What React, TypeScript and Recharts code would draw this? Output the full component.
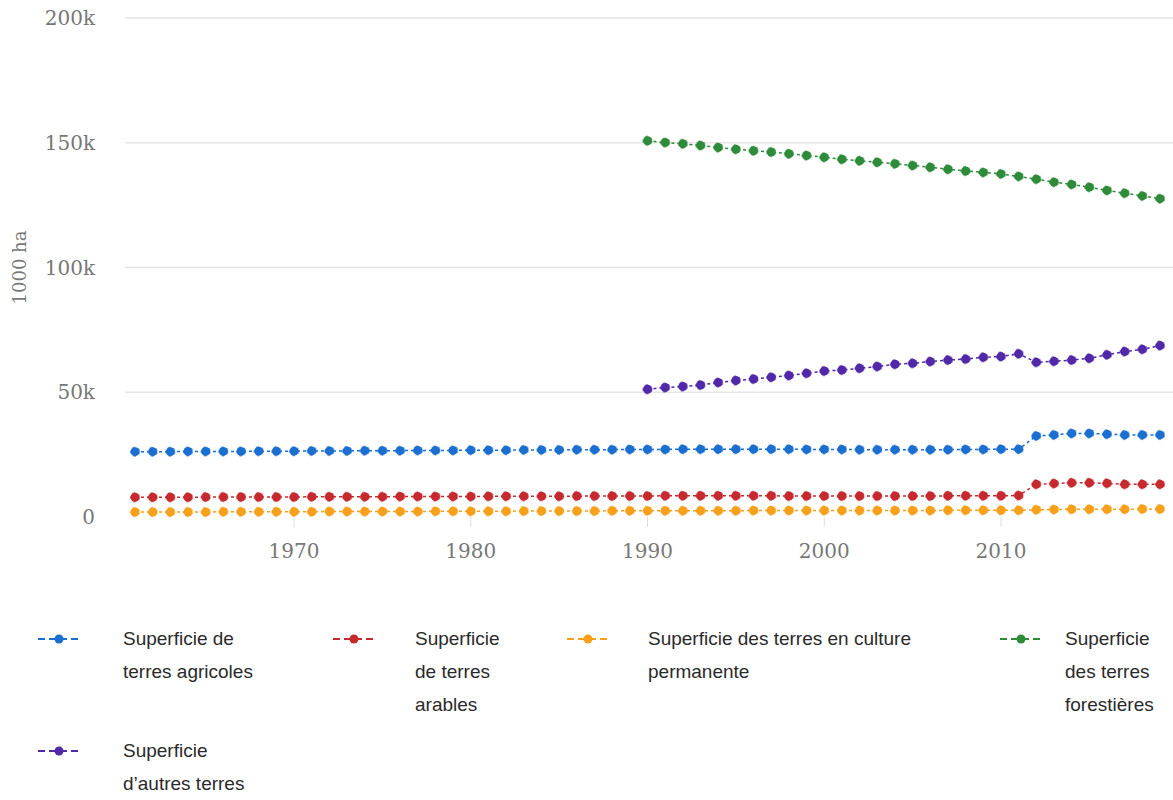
import { CartesianGrid, Legend, Line, LineChart, XAxis, YAxis } from 'recharts';

// years shown on the x axis
const years = [
  1961, 1962, 1963, 1964, 1965, 1966, 1967, 1968, 1969, 1970,
  1971, 1972, 1973, 1974, 1975, 1976, 1977, 1978, 1979, 1980,
  1981, 1982, 1983, 1984, 1985, 1986, 1987, 1988, 1989, 1990,
  1991, 1992, 1993, 1994, 1995, 1996, 1997, 1998, 1999, 2000,
  2001, 2002, 2003, 2004, 2005, 2006, 2007, 2008, 2009, 2010,
  2011, 2012, 2013, 2014, 2015, 2016, 2017, 2018, 2019,
];

// 1000 ha, 1961-2019
const agricoles = [
  26200, 26200, 26200, 26300, 26300, 26300, 26300, 26400, 26400, 26400,
  26500, 26500, 26500, 26600, 26600, 26600, 26700, 26700, 26700, 26800,
  26800, 26800, 26900, 26900, 26900, 27000, 27000, 27000, 27100, 27100,
  27100, 27200, 27200, 27200, 27200, 27200, 27200, 27200, 27100, 27100,
  27100, 27000, 27000, 27000, 27000, 27000, 27000, 27100, 27100, 27200,
  27200, 32500, 32900, 33500, 33500, 33200, 32900, 32900, 32900,
];

const arables = [
  7900, 7900, 7900, 7900, 8000, 8000, 8000, 8000, 8000, 8000,
  8100, 8100, 8100, 8100, 8100, 8200, 8200, 8200, 8200, 8200,
  8300, 8300, 8300, 8300, 8300, 8400, 8400, 8400, 8400, 8400,
  8500, 8500, 8500, 8500, 8500, 8500, 8500, 8400, 8400, 8400,
  8400, 8400, 8400, 8400, 8400, 8400, 8500, 8500, 8500, 8500,
  8600, 13100, 13400, 13700, 13700, 13500, 13100, 13100, 13100,
];

const permanentes = [
  2000, 2000, 2000, 2000, 2000, 2100, 2100, 2100, 2100, 2100,
  2100, 2200, 2200, 2200, 2200, 2200, 2200, 2300, 2300, 2300,
  2300, 2300, 2400, 2400, 2400, 2400, 2400, 2500, 2500, 2500,
  2500, 2500, 2500, 2500, 2500, 2600, 2600, 2600, 2600, 2600,
  2600, 2600, 2600, 2600, 2600, 2600, 2700, 2700, 2700, 2700,
  2700, 2900, 3000, 3100, 3100, 3100, 3100, 3200, 3200,
];

// forest and other land only reported from 1990
const firstYearForest = 1990;

const forestieres = [
  150800, 150100, 149600, 148900, 148100, 147400, 146800, 146300, 145600, 144900,
  144200, 143400, 142800, 142200, 141600, 140900, 140200, 139400, 138700, 138100,
  137500, 136500, 135400, 134200, 133300, 132200, 130900, 129800, 128700, 127600,
];

const autres = [
  51200, 51900, 52300, 52900, 53900, 54700, 55300, 56000, 56700, 57600,
  58500, 58900, 59600, 60300, 61200, 61600, 62300, 62900, 63300, 64000,
  64300, 65400, 62000, 62400, 62900, 63600, 65000, 66300, 67200, 68700,
];

const yTicks = [0, 50000, 100000, 150000, 200000];
const xTicks = [1970, 1980, 1990, 2000, 2010];

const series = [
  { key: 'agricoles', name: 'Superficie de\nterres agricoles', color: '#1b6fd0' },
  { key: 'arables', name: 'Superficie\nde terres\narables', color: '#c62a2f' },
  { key: 'permanentes', name: 'Superficie des terres en culture\npermanente', color: '#f7a01a' },
  { key: 'forestieres', name: 'Superficie\ndes terres\nforestières', color: '#2e8b3a' },
  { key: 'autres', name: 'Superficie\nd\u2019autres terres', color: '#5129a8' },
];

const data = years.map((year, i) => {
  const j = i - years.indexOf(firstYearForest);
  return {
    year,
    agricoles: agricoles[i],
    arables: arables[i],
    permanentes: permanentes[i],
    forestieres: j >= 0 ? forestieres[j] : null,
    autres: j >= 0 ? autres[j] : null,
  };
});

// legend placement: icon left, text left, row top
const legendIconX = [38, 333, 567, 1000, 38];
const legendTextX = [123, 415, 648, 1065, 123];
const legendRowY = [0, 0, 0, 0, 112];

const renderLegend = () => (
  <div
    style={{
      position: 'relative',
      width: 1173,
      height: 180,
      fontFamily: '"Liberation Sans", Arial, sans-serif',
      fontSize: 19,
      color: '#2a2a2a',
    }}
  >
    {series.map((s, i) => (
      <div key={s.key}>
        <svg
          width={42}
          height={12}
          style={{ position: 'absolute', left: legendIconX[i], top: legendRowY[i] + 2 }}
        >
          <line x1={0} y1={6} x2={42} y2={6} stroke={s.color} strokeWidth={2} strokeDasharray="7 4" />
          <circle cx={21} cy={6} r={4.5} fill={s.color} />
        </svg>
        <div
          style={{
            position: 'absolute',
            left: legendTextX[i],
            top: legendRowY[i] - 9,
            whiteSpace: 'pre',
            lineHeight: '33px',
          }}
        >
          {s.name}
        </div>
      </div>
    ))}
  </div>
);

const fmtK = (v: number) => (v === 0 ? '0' : `${v / 1000}k`);

const axisFont = { fill: '#777', fontSize: 20, fontFamily: '"DejaVu Serif", serif' };

export default function App() {
  return (
    <div style={{ position: 'absolute', left: 0, top: 0, width: 1173, height: 800, background: '#fff' }}>
      <LineChart
        width={1173}
        height={800}
        data={data}
        margin={{ top: 18, right: 0, bottom: 223, left: 0 }}
      >
        <CartesianGrid
          vertical={false}
          horizontalValues={[50000, 100000, 150000, 200000]}
          stroke="#e6e6e6"
          strokeWidth={1.5}
        />
        <XAxis
          dataKey="year"
          type="number"
          domain={[1961, 2019]}
          ticks={xTicks}
          padding={{ left: 10, right: 13 }}
          height={60}
          axisLine={false}
          tickSize={10}
          tickMargin={17}
          tickLine={{ stroke: '#dddddd' }}
          tick={axisFont}
        />
        <YAxis
          domain={[0, 200000]}
          ticks={yTicks}
          tickFormatter={fmtK}
          width={125}
          axisLine={false}
          tickLine={false}
          tickSize={0}
          tickMargin={30}
          tick={axisFont}
          label={{
            value: '1000 ha',
            angle: -90,
            position: 'insideLeft',
            offset: 20,
            style: { textAnchor: 'middle', fill: '#777', fontSize: 18, fontFamily: '"DejaVu Serif", serif' },
          }}
        />
        {series.map((s) => (
          <Line
            key={s.key}
            dataKey={s.key}
            name={s.name}
            stroke={s.color}
            strokeWidth={1.5}
            strokeDasharray="3 3"
            dot={{ r: 4.5, fill: s.color, stroke: s.color, strokeOpacity: 0.5, strokeWidth: 1.5 }}
            isAnimationActive={false}
          />
        ))}
        <Legend
          layout="vertical"
          align="center"
          verticalAlign="middle"
          content={renderLegend}
          wrapperStyle={{ left: 0, top: 631, width: 1173 }}
        />
      </LineChart>
    </div>
  );
}
